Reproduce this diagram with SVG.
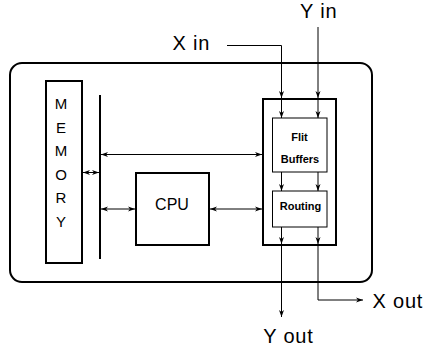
<svg xmlns="http://www.w3.org/2000/svg" width="426" height="351" viewBox="0 0 426 351">
<style>
.box{fill:#fff;stroke:#000;stroke-width:2}
.thin{fill:#fff;stroke:#000;stroke-width:1}
.w{fill:none;stroke:#000;stroke-width:1}
.lbl{font-family:"Liberation Sans",Arial,sans-serif;font-size:20px;letter-spacing:0.8px;fill:#000}
.mem{font-family:"Liberation Sans",Arial,sans-serif;font-size:15px;fill:#000;text-anchor:middle}
.cpu{font-family:"Liberation Sans",Arial,sans-serif;font-size:16px;fill:#000;text-anchor:middle}
.b{font-family:"Liberation Sans",Arial,sans-serif;font-size:11px;font-weight:bold;fill:#000;text-anchor:middle}
</style>
<defs>
<marker id="ah" markerUnits="userSpaceOnUse" markerWidth="8" markerHeight="6" refX="7" refY="3" orient="auto-start-reverse">
<path d="M0,0.5 L7,3 L0,5.5 L2,3 z" fill="#000"/>
</marker>
</defs>
<g id="chip"><rect x="10" y="63" width="362" height="219" rx="12" ry="12" class="box"/></g>
<g id="memory">
<rect x="46" y="81" width="36" height="182" class="box"/>
<text class="mem" x="61" y="109">M</text>
<text class="mem" x="61" y="132.5">E</text>
<text class="mem" x="61" y="156">M</text>
<text class="mem" x="61" y="179.5">O</text>
<text class="mem" x="61" y="203">R</text>
<text class="mem" x="61" y="226.5">Y</text>
</g>
<g id="bus"><line x1="100" y1="95" x2="100" y2="259" stroke="#000" stroke-width="2"/></g>
<g id="cpu">
<rect x="136" y="173" width="73" height="72" class="box"/>
<text class="cpu" x="172" y="209.5">CPU</text>
</g>
<g id="router"><rect x="263" y="99" width="73" height="146" class="box"/></g>
<g id="flit">
<rect x="272.5" y="118" width="54.5" height="54" class="thin"/>
<text class="b" x="299.5" y="141">Flit</text>
<text class="b" x="300" y="163.3">Buffers</text>
</g>
<g id="routing">
<rect x="272.5" y="191" width="54.5" height="36" class="thin"/>
<text class="b" x="300.5" y="210">Routing</text>
</g>
<g id="connectors">
<line class="w" x1="83" y1="172.5" x2="99" y2="172.5" marker-start="url(#ah)" marker-end="url(#ah)"/>
<line class="w" x1="101" y1="154.5" x2="262" y2="154.5" marker-start="url(#ah)" marker-end="url(#ah)"/>
<line class="w" x1="101" y1="209" x2="135" y2="209" marker-start="url(#ah)" marker-end="url(#ah)"/>
<line class="w" x1="210" y1="209" x2="262" y2="209" marker-start="url(#ah)" marker-end="url(#ah)"/>
<path class="w" d="M227,45.5 H281.5 V98" marker-end="url(#ah)"/>
<line class="w" x1="281.5" y1="100" x2="281.5" y2="118" marker-end="url(#ah)"/>
<line class="w" x1="318" y1="27" x2="318" y2="98" marker-end="url(#ah)"/>
<line class="w" x1="318" y1="100" x2="318" y2="118" marker-end="url(#ah)"/>
<line class="w" x1="281.5" y1="172" x2="281.5" y2="191" marker-end="url(#ah)"/>
<line class="w" x1="318" y1="172" x2="318" y2="191" marker-end="url(#ah)"/>
<line class="w" x1="281.5" y1="227" x2="281.5" y2="244" marker-end="url(#ah)"/>
<line class="w" x1="318" y1="227" x2="318" y2="244" marker-end="url(#ah)"/>
<line class="w" x1="281.5" y1="246" x2="281.5" y2="317" marker-end="url(#ah)"/>
<path class="w" d="M318,246 V300 H363" marker-end="url(#ah)"/>
</g>
<g id="labels">
<text class="lbl" x="172.5" y="50">X in</text>
<text class="lbl" x="300" y="17.5">Y in</text>
<text class="lbl" x="372.5" y="308.3">X out</text>
<text class="lbl" x="263.3" y="343">Y out</text>
</g>
</svg>
